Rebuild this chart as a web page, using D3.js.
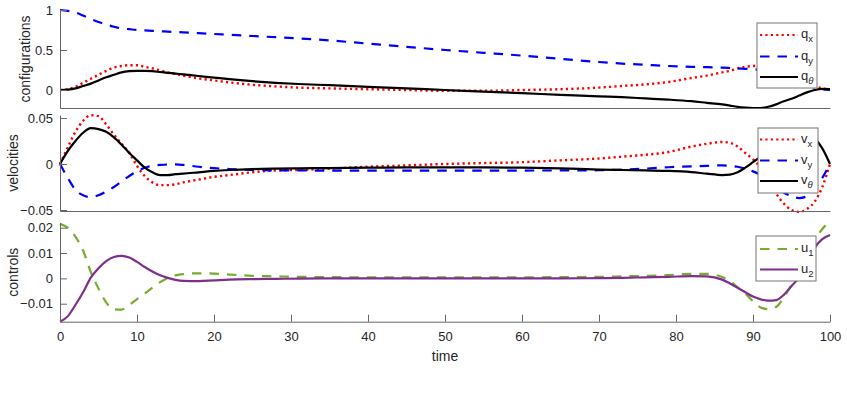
<!DOCTYPE html>
<html lang="en">
<head>
  <meta charset="UTF-8">
  <title>Configurations, velocities and controls</title>
  <script src="https://d3js.org/d3.v7.min.js"></script>
  <style>
    body { margin: 0; background: #fff; }
    svg text { font-family: "Liberation Sans", Arial, sans-serif; fill: #262626; }
    .tick text { font-size: 13px; }
    .ylab, .xlab { font-size: 14px; }
    .leg text { font-size: 13px; }
  </style>
</head>
<body>
  <svg id="chart" width="847" height="393"></svg>
  <script>
    // sample times (irregular, denser where curves bend)
    const time = [0,1,2,3,4,5,6,7,8,9,10,11,12,13,14,15,16,18,20,22,25,28,31,35,40,45,50,55,60,65,70,73,76,79,82,84,86,87,88,89,90,91,92,93,94,95,96,97,98,99,100];

    // configurations
    const qx = [0,0.01,0.04,0.09,0.14,0.19,0.24,0.28,0.30,0.31,0.31,0.29,0.27,0.245,0.22,0.20,0.18,0.145,0.12,0.095,0.065,0.045,0.03,0.02,0.01,0,-0.01,-0.01,0,0.01,0.03,0.05,0.07,0.10,0.15,0.18,0.22,0.24,0.27,0.29,0.30,0.31,0.30,0.28,0.24,0.19,0.14,0.09,0.05,0.02,0];
    const qy = [1,0.99,0.97,0.93,0.89,0.85,0.82,0.79,0.77,0.76,0.75,0.745,0.74,0.735,0.73,0.725,0.72,0.71,0.70,0.69,0.675,0.66,0.645,0.62,0.58,0.54,0.50,0.465,0.43,0.39,0.35,0.33,0.315,0.30,0.29,0.285,0.28,0.275,0.27,0.265,0.26,0.25,0.23,0.20,0.17,0.13,0.09,0.06,0.03,0.01,0];
    const qth = [0,0.005,0.02,0.05,0.08,0.12,0.16,0.19,0.22,0.235,0.24,0.24,0.235,0.225,0.215,0.205,0.195,0.175,0.155,0.135,0.11,0.09,0.075,0.06,0.04,0.02,0,-0.02,-0.04,-0.06,-0.08,-0.09,-0.105,-0.12,-0.14,-0.16,-0.18,-0.195,-0.21,-0.22,-0.225,-0.225,-0.21,-0.18,-0.14,-0.11,-0.07,-0.03,0,0.015,0.01];

    // velocities
    const vx = [0,0.018,0.035,0.047,0.053,0.052,0.043,0.032,0.022,0.012,-0.002,-0.013,-0.02,-0.023,-0.023,-0.022,-0.02,-0.017,-0.014,-0.012,-0.009,-0.007,-0.0065,-0.005,-0.003,-0.0015,0,0.001,0.002,0.004,0.006,0.008,0.01,0.013,0.019,0.022,0.024,0.023,0.019,0.012,0.005,-0.004,-0.018,-0.032,-0.043,-0.05,-0.052,-0.049,-0.041,-0.025,0];
    const vy = [0,-0.015,-0.028,-0.034,-0.036,-0.034,-0.03,-0.025,-0.019,-0.013,-0.008,-0.004,-0.002,-0.001,-0.0005,-0.0005,-0.001,-0.003,-0.0045,-0.0055,-0.0065,-0.007,-0.007,-0.0072,-0.0072,-0.0072,-0.0072,-0.0072,-0.0071,-0.007,-0.0068,-0.006,-0.005,-0.0035,-0.0025,-0.002,-0.0015,-0.002,-0.003,-0.005,-0.008,-0.012,-0.017,-0.024,-0.031,-0.035,-0.037,-0.035,-0.027,-0.015,0];
    const vth = [0,0.014,0.025,0.034,0.039,0.038,0.035,0.029,0.021,0.012,0.004,-0.004,-0.009,-0.012,-0.012,-0.011,-0.0105,-0.009,-0.0075,-0.0065,-0.0055,-0.005,-0.0047,-0.0044,-0.004,-0.0037,-0.0036,-0.0037,-0.004,-0.0048,-0.006,-0.0065,-0.007,-0.0075,-0.0088,-0.0105,-0.012,-0.0115,-0.009,-0.004,0.002,0.008,0.015,0.022,0.028,0.033,0.035,0.033,0.028,0.017,0];

    // controls
    const u1 = [0.0215,0.02,0.0165,0.011,0.0025,-0.004,-0.0095,-0.0122,-0.0123,-0.0105,-0.0082,-0.006,-0.0037,-0.0015,0.0002,0.0012,0.0017,0.002,0.0019,0.0015,0.001,0.0008,0.0006,0.0005,0.0004,0.0004,0.0004,0.0004,0.0004,0.0005,0.0006,0.0008,0.001,0.0013,0.0018,0.0018,0.0005,-0.001,-0.0035,-0.006,-0.009,-0.0115,-0.0122,-0.0113,-0.0075,-0.0025,0.0035,0.0095,0.015,0.0195,0.0225];
    const u2 = [-0.0171,-0.015,-0.0105,-0.0055,0.0003,0.004,0.0068,0.0084,0.0089,0.0082,0.0065,0.0045,0.0027,0.0012,0.0002,-0.0006,-0.001,-0.0011,-0.0008,-0.0005,-0.0003,-0.0002,-0.0001,0,0,0,0,0,0,0,0.0001,0.0002,0.0004,0.0006,0.0009,0.0008,-0.0005,-0.002,-0.0037,-0.0055,-0.0072,-0.0083,-0.0088,-0.0086,-0.0065,-0.003,0.0003,0.005,0.012,0.0155,0.0171];

    const xTicks = [0,10,20,30,40,50,60,70,80,90,100];
    const ylabels = ['configurations', 'velocities', 'controls'];
    const yTicks = [[0, 0.5, 1], [-0.05, 0, 0.05], [-0.01, 0, 0.01, 0.02]];
    const yTickFmt = [d3.format('~g'), d3.format('~g'), d3.format('~g')];
    const yDomains = [[-0.225, 1], [-0.0511, 0.0533], [-0.0171, 0.022]];

    const RED = '#ff0000', BLUE = '#0000ff', BLACK = '#000000', GREEN = '#77ac30', PURPLE = '#7e2f8e';
    const DOT = '2.2,3.2', DASH = '9.5,8';

    const panels = [
      {
        series: [
          { v: qx, color: RED, dash: DOT, name: 'q', sub: 'x' },
          { v: qy, color: BLUE, dash: DASH, name: 'q', sub: 'y' },
          { v: qth, color: BLACK, dash: null, name: 'q', sub: 'θ' }
        ],
        top: 10, bottom: 108, leg: { x: 757, y: 23, h: 65, rows: [35, 56.5, 77] }, labX: 30
      },
      {
        series: [
          { v: vx, color: RED, dash: DOT, name: 'v', sub: 'x' },
          { v: vy, color: BLUE, dash: DASH, name: 'v', sub: 'y' },
          { v: vth, color: BLACK, dash: null, name: 'v', sub: 'θ' }
        ],
        top: 115, bottom: 211, leg: { x: 758, y: 128, h: 65, rows: [139.5, 160.5, 181] }, labX: 18
      },
      {
        series: [
          { v: u1, color: GREEN, dash: DASH, name: 'u', sub: '1' },
          { v: u2, color: PURPLE, dash: null, name: 'u', sub: '2' }
        ],
        top: 222.6, bottom: 321.7, leg: { x: 756, y: 236, h: 45, rows: [249, 269.5] }, labX: 18
      }
    ];

    const svg = d3.select('#chart');
    const x = d3.scaleLinear().domain([0, 100]).range([60, 830]);

    panels.forEach((p, i) => {
      const y = d3.scaleLinear().domain(yDomains[i]).range([p.bottom, p.top]);
      const g = svg.append('g');

      // lines
      const line = d3.line()
        .x((d, j) => x(time[j]))
        .y(d => y(d))
        .curve(d3.curveMonotoneX);

      g.selectAll('.series')
        .data(p.series)
        .enter().append('path')
        .attr('d', s => line(s.v))
        .attr('fill', 'none')
        .attr('stroke', s => s.color)
        .attr('stroke-width', s => s.dash === DOT ? 2.4 : 2.2)
        .attr('stroke-dasharray', s => s.dash);

      // y axis
      const ya = g.append('g')
        .attr('transform', 'translate(60,0)')
        .call(d3.axisLeft(y).tickValues(yTicks[i]).tickFormat(yTickFmt[i])
          .tickSizeInner(-7).tickSizeOuter(0).tickPadding(7));

      // x axis (labels only on the last panel)
      const last = i === panels.length - 1;
      const xa = g.append('g')
        .attr('transform', `translate(0,${p.bottom})`)
        .call(d3.axisBottom(x).tickValues(last ? xTicks : []).tickFormat(d3.format('d'))
          .tickSizeInner(-7).tickSizeOuter(0).tickPadding(10));

      [ya, xa].forEach(a => {
        a.select('.domain').attr('stroke', '#666');
        a.selectAll('.tick line').attr('stroke', '#666');
        a.selectAll('.tick text').attr('fill', '#262626').style('font-family', '"Liberation Sans", Arial, sans-serif');
      });

      // y label
      svg.append('text')
        .attr('class', 'ylab')
        .attr('transform', `translate(${p.labX},${(p.top + p.bottom) / 2}) rotate(-90)`)
        .attr('text-anchor', 'middle')
        .text(ylabels[i]);

      // legend
      const lg = svg.append('g').attr('class', 'leg');
      lg.append('rect')
        .attr('x', p.leg.x).attr('y', p.leg.y)
        .attr('width', 60).attr('height', p.leg.h)
        .attr('fill', '#fff').attr('stroke', '#777').attr('stroke-width', 1);

      p.series.forEach((s, k) => {
        const ry = p.leg.rows[k];
        lg.append('line')
          .attr('x1', 760).attr('x2', 798)
          .attr('y1', ry).attr('y2', ry)
          .attr('stroke', s.color)
          .attr('stroke-width', 2.2)
          .attr('stroke-dasharray', s.dash);
        const t = lg.append('text').attr('x', 801).attr('y', ry + 3);
        t.append('tspan').text(s.name);
        t.append('tspan')
          .attr('dy', 4)
          .style('font-size', '9.5px')
          .style('font-style', s.sub === 'θ' ? 'italic' : 'normal')
          .text(s.sub);
      });
    });

    svg.append('text')
      .attr('class', 'xlab')
      .attr('x', x(50)).attr('y', 361)
      .attr('text-anchor', 'middle')
      .text('time');
  </script>
</body>
</html>
